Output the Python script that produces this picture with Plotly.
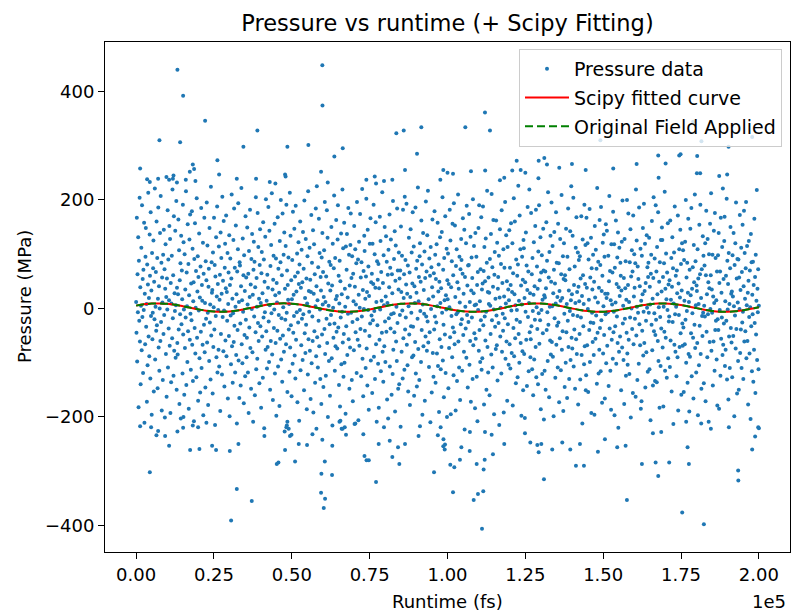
import numpy as np
import plotly.graph_objects as go

# ---------------- data ----------------
# bulk of the pressure samples (MPa), evenly spread over 0 .. 2e5 fs
pressure_body = [
 12, -45, 167, -98, 63, -7, 131, -182, 88, -23, 204, -61, 39, -140, 5, 112, -77, 190, -16, 54,
 -119, 71, -3, 158, -211, 27, -66, 95, 148, -34, 8, -172, 81, -105, 44, 213, -52, 19, -88, 136,
 60, -129, 177, -14, 33, -196, 102, -57, -8, 74, 125, -153, 49, -20, 221, -94, 3, 67, -41, 160,
 -31, 93, -147, 18, 186, -72, 41, -115, 0, 139, -60, 207, -25, 84, -188, 57, 11, -132, 99, -47,
 145, -12, 72, -201, 36, 118, -84, 21, -163, 55, -2, 181, -109, 90, -37, 15, 152, -69, 128, -193,
 47, -136, 9, 97, -55, 219, -18, 61, -124, 170, -78, 28, -5, 143, -91, 6, 198, -150, 38, -64,
 -85, 26, 164, -39, 107, -176, 52, -11, 83, -203, 134, -29, 70, 17, -120, 191, -48, 122, -2, -159,
 100, -73, 35, -17, 216, -141, 66, 4, -99, 155, -42, 82, -185, 24, 127, -58, 173, -10, -113, 46,
 -22, 179, -67, 110, -134, 13, 48, -208, 91, -36, 157, -83, 1, 69, -127, 203, -54, 31, 96, -170,
 58, -4, 138, -92, 20, -155, 77, -43, 185, -110, 43, 14, -67, 121, -197, 64, -30, 167, -81, 10,
 -146, 87, -19, 52, 195, -63, 116, -8, -178, 40, 73, -97, 148, -26, 7, -131, 224, -50, 85, 29,
 34, -157, 103, -71, 2, 167, -39, 80, -215, 59, -14, 131, -90, 22, 188, -118, 45, -3, -76, 114,
 -107, 16, 62, -189, 140, -47, 93, 27, -122, 206, -16, 51, -79, 161, -4, -144, 75, 119, -59, 37,
 171, -88, 30, -23, 102, -166, 8, 66, -51, 135, -199, 43, 92, -13, -103, 55, 210, -70, 18, -137,
 -9, 126, -62, 184, -32, 75, -118, 3, 153, -86, 26, -212, 68, -40, 109, 194, -96, 12, -165, 85,
 79, -28, -142, 41, 222, -66, 15, -101, 129, -6, 61, -175, 98, -49, 32, -125, 170, -21, 57, -90,
 -54, 149, 7, -118, 64, -193, 106, -35, 21, 182, -73, 44, -148, 91, -1, 137, -81, 25, -209, 71,
 123, -15, 86, -160, 39, -44, 205, -112, 56, 3, -93, 176, -27, 113, -60, 18, -138, 80, 146, -33,
 10, -183, 65, 104, -52, 28, -128, 159, -17, 90, -221, 49, -7, 132, -76, 201, -42, 14, -111, 62,
 -71, 38, 187, -24, -99, 143, 6, -150, 78, -60, 117, -9, 212, -85, 35, -169, 53, 97, -36, -2,
 156, -120, 24, -64, 92, -198, 47, 11, -41, 168, -107, 73, -12, 29, -180, 124, -56, 85, 200, -94,
 -18, 61, -135, 175, -50, 2, 99, -80, 140, -227, 36, -21, 115, -66, 191, -8, 70, -154, 43, 16,
 94, -39, 8, -117, 213, -72, 134, -31, 52, -162, 17, 89, -102, 178, -45, 25, -14, 147, -87, 59,
 -129, 189, -58, 31, -7, 101, -173, 66, -26, 122, 45, -207, 81, -3, 160, -114, 38, -68, 108, -19,
 48, -95, 141, -11, 73, -151, 199, -46, 19, -82, 128, -30, 55, -186, 9, 96, -122, 216, -57, 32,
 -6, 112, -78, 53, -167, 30, 172, -101, 84, -15, -60, 144, -192, 27, 118, -42, 63, -137, 4, 184,
 -88, 41, 225, -53, 15, -109, 76, -23, 165, -70, 102, -2, -130, 58, 33, -176, 94, -48, 139, 7,
 67, -145, 21, 107, -38, 196, -84, 12, -124, 59, -19, 181, -64, 130, -200, 46, 5, -97, 86, -29,
 -161, 33, 80, -12, 150, -92, 42, -216, 119, 1, -54, 74, 208, -28, -115, 93, -70, 17, 163, -43,
 23, -74, 127, 190, -35, 60, -141, 9, 88, -181, 50, -17, 138, -103, 26, -6, 219, -63, 111, -126,
 -47, 158, -100, 36, 3, -194, 114, -33, 71, 137, -86, 20, -10, 185, -57, 99, -148, 42, -72, 117,
 175, -8, 56, -132, 96, -25, -171, 64, 13, -77, 152, -213, 40, 109, -44, 7, 83, -119, 196, -20,
 -58, 90, -206, 25, 123, -69, 1, 174, -38, 57, -125, 85, -15, 220, -93, 34, -162, 69, -1, 134,
 106, -41, 18, -110, 59, 202, -74, 30, -142, 145, -3, 77, -187, 23, -51, 119, -28, 166, -96, 48,
 -13, 64, -156, 119, -22, 45, 191, -89, -5, 100, -130, 38, 159, -66, 12, -209, 87, -31, 53, -102,
 82, -183, 37, -58, 169, -2, 124, -116, 67, 14, -45, 214, -80, 47, -135, 98, 6, -70, 150, -24,
 -99, 22, 133, -43, 86, -168, 10, 62, -203, 108, -18, 39, 173, -107, 75, -37, 127, -11, -159, 63,
 28, -121, 198, -76, -9, 91, -44, 142, -190, 51, 116, -61, 3, -97, 184, -27, 70, -148, 35, 103,
 -140, 55, -12, 70, -218, 151, 30, -80, 97, -4, -129, 182, -55, 19, 63, -113, 206, -39, 89, -17,
 44, 193, -67, 27, -105, 79, -153, 4, 130, -48, 66, -178, 21, 146, -33, -8, 103, -90, 46, 177,
 -34, -87, 114, -161, 41, 10, -62, 186, -120, 73, 29, -144, 88, -19, 223, -75, 13, 58, -132, 96,
 120, -5, 49, -99, 162, -40, 81, -196, 7, 139, -70, 34, -10, 105, -170, 56, -52, 197, -15, 68,
 -78, 135, -24, 217, -63, 17, -108, 92, -44, 60, -210, 113, -1, 76, -155, 39, 164, -82, 22, -126,
 65, -39, 179, -15, 99, -137, 54, -26, 118, -83, 4, 158, -106, 31, 81, -191, 49, -57, 131, 10,
 -112, 37, -71, 141, -8, 205, -96, 71, -30, -164, 93, 15, -48, 170, -119, 24, -2, 110, -200, 52,
 17, 101, -147, 45, -73, 2, 182, -53, 125, -195, 39, -14, 87, -90, 156, -35, 61, -123, 194, -44,
 -66, 153, 21, -188, 78, -11, 109, -134, 48, -7, 210, -61, 36, -109, 95, 11, -169, 72, -29, 128,
 89, -20, -115, 64, 166, -49, 27, -80, 145, -223, 58, 3, -37, 120, -91, 189, -12, 42, -146, 79,
 -25, 80, 174, -104, 12, -60, 132, -172, 33, 94, -17, 56, -130, 201, -68, 28, 115, -46, 6, -184,
 139, -56, 7, 95, -126, 43, -208, 67, -3, 148, -78, 190, -40, 13, -99, 72, -22, 168, -113, 35,
 -92, 46, 188, -31, 69, -177, 113, -15, 50, -59, 129, -6, -150, 84, 217, -71, 30, -118, 57, 8,
 29, -160, 91, 5, -47, 137, -85, 211, -22, 76, -109, 40, 163, -2, -195, 62, 104, -34, 18, -75,
 162, -13, -68, 121, -133, 36, 58, -27, 97, -215, 20, 146, -52, 1, 82, -120, 181, -80, 47, -10,
 -41, 109, -192, 22, 75, -18, 196, -93, 9, 135, -61, 50, -170, 113, -29, 35, -104, 15, 144, -66,
 75, -111, 43, 157, -4, -82, 30, 120, -179, 65, -36, 203, -88, 26, 160, -55, 6, -138, 90, -21,
 -3, 60, -127, 81, 226, -47, 14, -100, 171, -25, 109, -64, 42, -198, 7, 95, -79, 53, -151, 126,
 111, -84, 19, -202, 48, -6, 140, -58, 79, -143, 34, 187, -16, 68, -116, 10, 219, -44, 28, -90,
 -57, 176, -33, 63, -112, 93, -5, -160, 25, 122, -94, 41, -21, 152, -71, 182, -127, 2, 77, -38,
 36, -140, 105, -9, 190, -65, 52, -22, 131, -186, 66, -3, 98, -121, 16, -46, 147, 70, -205, 24,
 -115, 20, 68, -150, 37, 159, -40, 88, -7, -97, 214, -30, 57, -164, 104, 3, -59, 134, -85, 49,
 195, -62, 4, 115, -89, 28, -199, 71, 141, -18, 46, -128, 9, 177, -67, 84, -32, 21, -109, 156,
 -26, 83, -173, 32, -55, 128, 14, -114, 63, 209, -76, 19, -42, 96, -189, 54, 120, -10, -145, 61,
 52, -100, 147, -44, 8, -165, 95, -23, 184, -71, 33, -130, 72, -5, 142, -95, 15, 225, -54, 26,
 -74, 134, -12, 204, -107, 43, -39, 77, -148, 10, 112, -57, 168, -84, 30, -14, 103, -177, 40, 89,
 13, -47, 96, -131, 55, -17, 170, -86, 23, -212, 127, 61, -33, 8, -103, 191, -70, 45, 117, -151,
 -123, 167, 38, -68, 120, -1, -154, 90, 16, -40, 183, -99, 57, -26, 130, -193, 74, -8, 35, -62,
 99, -27, -86, 49, -196, 152, 20, -56, 108, -13, 73, -139, 222, -45, 11, 86, -120, 38, -76, 163,
 -36, 80, -116, 187, -22, 32, -174, 60, 121, -83, 4, 136, -49, 95, -166, 27, -11, 155, -101, 19,
 143, -69, 27, -7, 97, -143, 50, 207, -37, 69, -115, 15, -187, 118, -58, 7, 66, -93, 178, -44,
 -6, 118, -197, 75, -33, 11, 162, -102, 45, -15, 94, -64, 140, -220, 39, -80, 112, 23, -52, 84,
 60, -151, 33, 123, -72, 199, -28, 5, -95, 56, -176, 128, -19, 37, 87, -124, 16, -45, 200, -83,
 -104, 43, 175, -58, 12, -121, 85, -17, 146, -201, 59, 0, 107, -38, 68, -156, 171, -66, 22, 100,
 38, -19, 83, -163, 219, -50, 125, 3, -132, 77, -8, 54, -102, 186, -29, 41, -68, 110, -185, 14,
 -171, 97, -41, 26, 148, -87, -6, 193, -64, 32, 119, -146, 47, -23, -81, 135, 1, 76, -117, 58,
 84, -8, 130, -112, 40, 7, -206, 64, 99, -30, 161, -77, 18, -142, 56, 205, -42, -9, 92, -134,
 -49, 190, -21, 68, -136, 113, 26, -60, 177, -97, 2, 49, -183, 85, -16, -106, 126, -37, 31, 149,
 126, -72, 58, -181, 3, 83, -43, 215, -115, 36, -54, 101, 17, -128, 66, -3, 157, -92, 44, -24,
 -15, 52, -108, 162, -59, 16, 93, -153, 40, 131, -25, 74, -213, 9, 103, -67, 188, -11, -80, 60,
 3, -125, 70, 28, -90, 171, -188, 46, -12, 109, -71, 20, 145, -46, 82, -159, 33, 120, -28, -69,
 107, -35, -154, 89, 14, -66, 123, -21, 200, -100, 57, -5, 84, -137, 29, 165, -84, 12, -190, 71,
 -89, 147, 24, -46, 185, -125, 36, -9, 76, -54, -166, 117, 48, -30, 210, -73, 87, 6, -118, 42,
 32, -64, 109, -197, 55, 8, -105, 154, -32, 63, 191, -84, 19, -148, 72, -14, -51, 133, -8, 97,
 -138, 5, 79, -15, 120, -171, 61, 180, -43, 26, -90, 128, -11, 48, -209, 100, 37, -62, 156, -1,
 61, 212, -78, 35, -8, 99, -142, 22, -61, 143, 10, -115, 176, -40, 93, -23, 15, -94, 68, -179,
 -20, 98, -40, 139, -185, 47, -3, 68, -124, 167, -56, 29, -17, 113, -86, 221, -67, 54, -28, 124,
 169, -106, 13, -76, 60, -23, 202, -131, 88, -2, 45, -168, 102, -52, 8, -110, 74, 150, -36, 27,
 -63, 31, -127, 98, 22, -51, 139, 4, -199, 80, -13, 120, -74, 195, -38, 55, -157, 91, 11, -97,
 90, -150, 57, -1, 172, -82, 34, -39, 112, -110, 67, -26, 154, -6, -130, 41, 180, -61, 102, 18,
 -42, 74, 196, -92, 6, 115, -60, 29, -177, 51, 124, -16, -83, 70, 2, -204, 137, -33, 85, -116,
 25, -11, 86, -135, 43, -76, 165, -27, 58, -156, 99, -48, 14, 218, -95, 36, -7, 72, -112, 5,
]

# outlying samples (runtime fs, pressure MPa)
outlier_runtime = [
 1280, 3530, 4400, 7060, 7480, 9730, 10590, 11800, 12000, 13260, 13100, 14130, 15090, 15950,
 17240, 18200, 18620, 19040, 22150, 26100, 26650, 32330, 34450, 38520, 38940, 42920, 44720,
 47830, 48000, 48570, 55310, 59390, 59800, 59850, 61540, 63660, 66350, 73940, 76630, 77050,
 79610, 82280, 83570, 85940, 86360, 90210, 91590, 97700, 98650, 100000, 101770, 105720,
 107540, 112040, 112100, 113640, 116850, 118230, 120800, 122220, 123500, 125000, 129280,
 129200, 131090, 131950, 135890, 139970, 144380, 149100, 153230, 160740, 167680, 167800,
 170050, 174420, 174860, 178900, 180190, 180100, 181150, 181550, 187260, 189820, 190270,
 197850,
 1280, 4400, 4810, 6520, 7060, 9310, 10590, 13260, 15090, 15200, 17340, 18200, 19900, 20320,
 22570, 24400, 25680, 30080, 30500, 32330, 32850, 37140, 41190, 45170, 45700, 47830, 48250,
 48400, 48570, 49000, 49400, 49900, 51040, 52230, 54890, 56620, 57900, 59390, 59500, 59800,
 60260, 60680, 60600, 62920, 63000, 65300, 65600, 66000, 66300, 67000, 67400, 70400, 72970,
 73340, 74000, 74720, 77050, 77900, 79600, 81450, 82280, 84110, 84530, 86360, 90700, 91160,
 95670, 96900, 97800, 98650, 98700, 99100, 99200, 100900, 101770, 102180, 104000, 104450,
 107130, 107200, 108410, 109370, 109780, 111080, 111490, 111600, 111940, 112040, 114180,
 114600, 118230, 124880, 126600, 128850, 129280, 130130, 130980, 133640, 136860, 139430,
 141250, 142540, 143820, 148310, 150560, 154510, 157200, 157620, 162440, 165970, 166840,
 167680, 168640, 171200, 175380, 176660, 177100, 177530, 181480, 182340, 184590, 190370,
 193350, 193400, 197850, 198800, 199800, 200000,
]
outlier_pressure = [
 258, 238, 233, 239, 310, 242, 237, 239, 245, 440, 232, 306, 392, 237,
 252, 265, 257, 235, 346, 273, 247, 239, 298, 239, 328, 233, 230,
 247, 243, 298, 301, 252, 448, 374, 232, 280, 295, 237, 243, 230,
 235, 237, 323, 328, 255, 285, 334, 237, 255, 250, 248, 334,
 253, 361, 254, 328, 236, 241, 254, 272, 255, 250, 272,
 240, 277, 265, 259, 266, 255, 310, 258, 266, 282, 241,
 267, 282, 284, 344, 281, 249, 249, 308, 244, 247, 298,
 316,
 -217, -302, -219, -234, -226, -235, -253, -227, -220, -200, -261, -216, -219, -259,
 -211, -253, -261, -263, -391, -333, -250, -355, -235, -287, -284, -261, -219,
 -216, -209, -222, -235, -233, -282, -250, -252, -232, -222, -340, -305, -242,
 -368, -351, -282, -307, -253, -209, -207, -222, -222, -219, -233, -212, -232,
 -272, -280, -280, -320, -250, -219, -244, -274, -256, -287, -250, -235, -217,
 -302, -234, -219, -254, -241, -260, -251, -288, -339, -293, -279, -256,
 -263, -228, -353, -287, -342, -406, -337, -297, -279, -228, -233,
 -269, -250, -230, -247, -252, -265, -250, -315, -260, -247, -260,
 -290, -250, -290, -264, -241, -256, -253, -353, -287, -230, -284,
 -309, -228, -284, -376, -209, -256, -287, -212, -398, -222, -219,
 -299, -317, -260, -236, -219, -221,
]

# fitted sine curve and applied field, sampled every 2500 fs
curve_runtime = list(range(0, 200001, 2500))
fitted_pressure = [
 5.11, 7.44, 8.88, 9.23, 8.43, 6.60, 4.01, 1.05, -1.84, -4.24, -5.78, -6.24, -5.56, -3.82, -1.29, 1.65,
 4.57, 7.03, 8.67, 9.25, 8.68, 7.04, 4.57, 1.65, -1.29, -3.81, -5.55, -6.24, -5.78, -4.24, -1.85, 1.04,
 4.00, 6.59, 8.42, 9.23, 8.88, 7.44, 5.12, 2.26, -0.71, -3.36, -5.28, -6.20, -5.97, -4.63, -2.38, 0.44,
 3.42, 6.12, 8.13, 9.15, 9.04, 7.81, 5.64, 2.86, -0.13, -2.87, -4.97, -6.10, -6.11, -4.98, -2.90, -0.16,
 2.83, 5.62, 7.80, 9.04, 9.16, 8.14, 6.14, 3.45, 0.47, -2.36, -4.61, -5.96, -6.20, -5.30, -3.38, -0.74,
 2.23,
]
field_pressure = fitted_pressure

x_tick_values = [0, 25000, 50000, 75000, 100000, 125000, 150000, 175000, 200000]
x_tick_labels = ["0.00", "0.25", "0.50", "0.75", "1.00", "1.25", "1.50", "1.75", "2.00"]
y_tick_values = [-400, -200, 0, 200, 400]
y_tick_labels = ["\u2212400", "\u2212200", "0", "200", "400"]

# ---------------- figure ----------------
body_runtime = np.linspace(0, 200000, len(pressure_body)).tolist()
all_runtime = body_runtime + outlier_runtime
all_pressure = pressure_body + outlier_pressure

FONT = "DejaVu Sans"
FS = 18
W, H = 792, 612
L, R, T, B = 105, 2, 42, 60
pw, ph = W - L - R, H - T - B

fig = go.Figure()
fig.add_trace(go.Scatter(
    x=all_runtime, y=all_pressure, mode="markers", name="Pressure data",
    marker=dict(size=4, color="#1f77b4", line=dict(width=0)),
    legendgroup="a"))
fig.add_trace(go.Scatter(
    x=curve_runtime, y=fitted_pressure, mode="lines", name="Scipy fitted curve",
    line=dict(color="red", width=2, shape="spline"), legendgroup="b"))
fig.add_trace(go.Scatter(
    x=curve_runtime, y=field_pressure, mode="lines", name="Original Field Applied",
    line=dict(color="green", width=2, dash="8px,4px", shape="spline"), legendgroup="c"))

axis_common = dict(
    showgrid=False, zeroline=False, showline=True, linecolor="black", linewidth=1,
    mirror=True, ticks="outside", ticklen=6, tickwidth=1, tickcolor="black",
    tickfont=dict(family=FONT, size=FS, color="black"),
)
fig.update_xaxes(range=[-10000, 210000], tickvals=x_tick_values, ticktext=x_tick_labels,
                 **axis_common)
fig.update_yaxes(range=[-449, 491], tickvals=y_tick_values, ticktext=y_tick_labels,
                 **axis_common)

def px_to_paper_x(px):
    return (px - L) / pw

def px_to_paper_y(py):
    return (H - B - py) / ph

fig.update_layout(
    width=W, height=H,
    margin=dict(l=L, r=R, t=T, b=B),
    paper_bgcolor="white", plot_bgcolor="white",
    font=dict(family=FONT, size=FS, color="black"),
    title=dict(text="Pressure vs runtime (+ Scipy Fitting)", x=0.5, xref="paper",
               y=1 - 23 / H, yref="container", yanchor="middle", xanchor="center",
               font=dict(family=FONT, size=22.5, color="black")),
    showlegend=True,
    legend=dict(x=px_to_paper_x(782), xanchor="right", y=px_to_paper_y(49), yanchor="top",
                bgcolor="rgba(255,255,255,0.8)", bordercolor="#cccccc", borderwidth=1,
                font=dict(family=FONT, size=19, color="black"), tracegroupgap=1,
                itemwidth=44),
    annotations=[
        dict(text="Runtime (fs)", xref="paper", yref="paper", x=0.5, y=px_to_paper_y(601),
             xanchor="center", yanchor="middle", showarrow=False,
             font=dict(family=FONT, size=FS, color="black")),
        dict(text="1e5", xref="paper", yref="paper", x=px_to_paper_x(788), y=px_to_paper_y(601),
             xanchor="right", yanchor="middle", showarrow=False,
             font=dict(family=FONT, size=FS, color="black")),
        dict(text="Pressure (MPa)", xref="paper", yref="paper", x=px_to_paper_x(24), y=0.5,
             xanchor="center", yanchor="middle", textangle=-90, showarrow=False,
             font=dict(family=FONT, size=FS, color="black")),
    ],
)

fig.write_html("out.html")
